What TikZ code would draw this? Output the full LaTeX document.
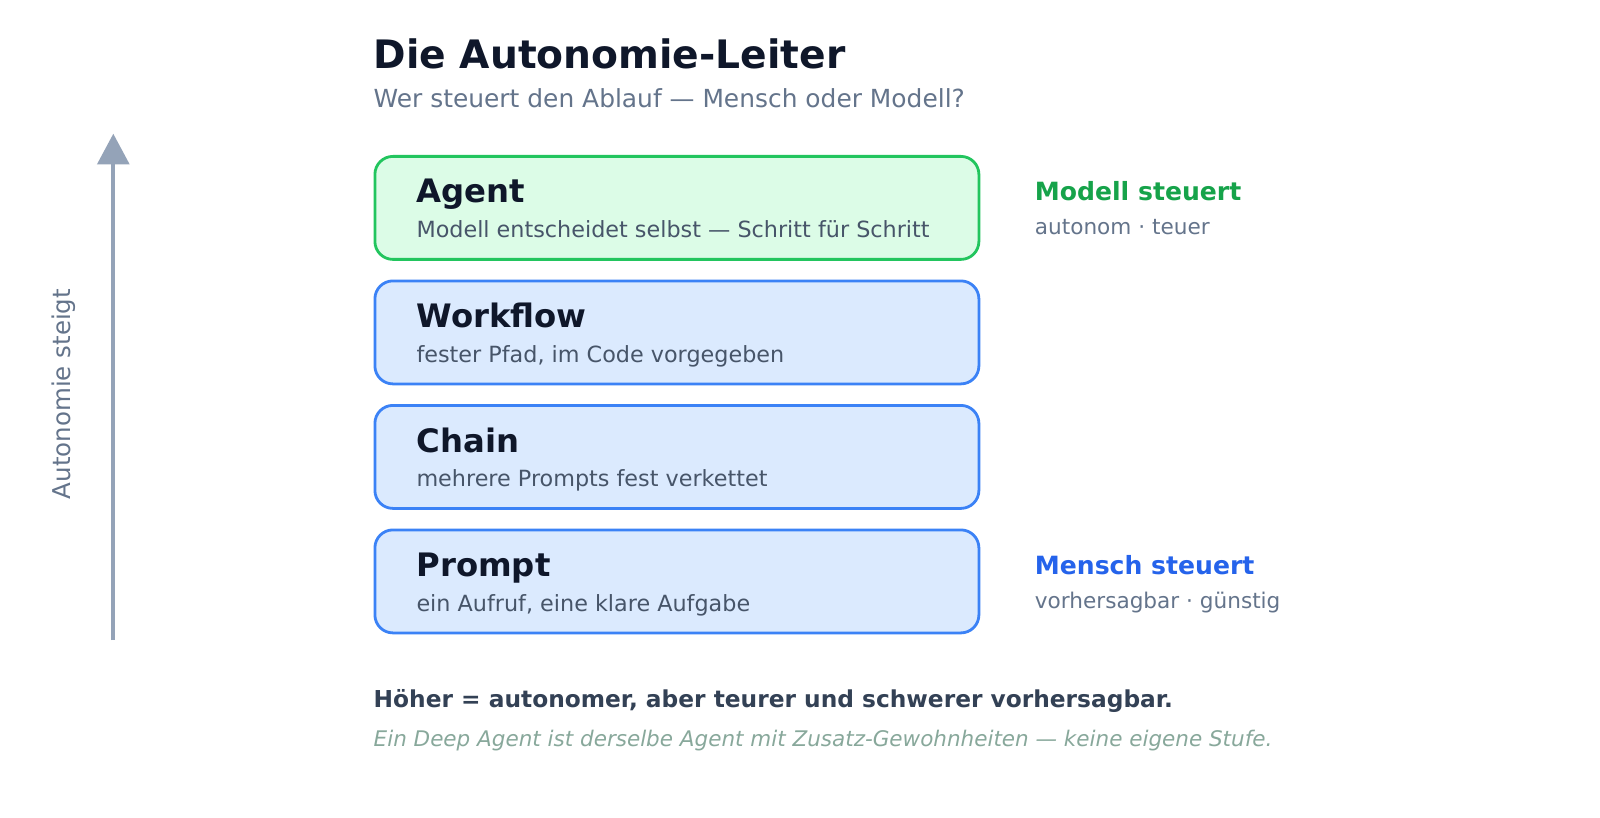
\documentclass[tikz,border=0pt]{standalone}
\usepackage{fontspec}
\setmainfont{DejaVu Sans}
\usetikzlibrary{arrows.meta}
\definecolor{ink}{HTML}{0F172A}
\definecolor{slate}{HTML}{64748B}
\definecolor{slatedk}{HTML}{475569}
\definecolor{slatexd}{HTML}{334155}
\definecolor{axiscol}{HTML}{94A3B8}
\definecolor{gborder}{HTML}{22C55E}
\definecolor{gfill}{HTML}{DCFCE7}
\definecolor{bborder}{HTML}{3B82F6}
\definecolor{bfill}{HTML}{DBEAFE}
\definecolor{gtext}{HTML}{16A34A}
\definecolor{btext}{HTML}{2563EB}
\definecolor{note}{HTML}{88A89B}
\begin{document}
\begin{tikzpicture}[x=1pt,y=-1pt,
  lvl/.style={draw=bborder,fill=bfill,line width=2.8pt,rounded corners=18pt,minimum width=604pt,minimum height=103pt,anchor=north west,inner sep=0pt},
  agentlvl/.style={lvl,draw=gborder,fill=gfill},
  lvltitle/.style={anchor=base west,inner sep=0pt,font=\bfseries\fontsize{32.3}{36}\selectfont,text=ink},
  lvlsub/.style={anchor=base west,inner sep=0pt,font=\fontsize{22.3}{26}\selectfont,text=slatedk},
  sidetitle/.style={anchor=base west,inner sep=0pt,font=\bfseries\fontsize{25.1}{29}\selectfont},
  sidesub/.style={anchor=base west,inner sep=0pt,font=\fontsize{21.6}{25}\selectfont,text=slate}]
\useasboundingbox[fill=white] (0,0) rectangle (1600,818);
% title
\node[anchor=base west,inner sep=0pt,font=\bfseries\fontsize{39.2}{44}\selectfont,text=ink] (title) at (373.5,68.4) {Die Autonomie-Leiter};
\node[anchor=base west,inner sep=0pt,font=\fontsize{24.9}{29}\selectfont,text=slate] (subtitle) at (373.5,108) {Wer steuert den Ablauf — Mensch oder Modell?};
% levels
\node[agentlvl] (agent) at (373.5,155) {};
\node[lvl] (workflow) at (373.5,279.5) {};
\node[lvl] (chain) at (373.5,404) {};
\node[lvl] (prompt) at (373.5,528.5) {};
\node[lvltitle] (agentT) at (416.3,203) {Agent};
\node[lvlsub] (agentS) at (416.3,237.7) {Modell entscheidet selbst — Schritt für Schritt};
\node[lvltitle] (workflowT) at (416.3,327.5) {Workflow};
\node[lvlsub] (workflowS) at (416.3,362.2) {fester Pfad, im Code vorgegeben};
\node[lvltitle] (chainT) at (416.3,452) {Chain};
\node[lvlsub] (chainS) at (416.3,486.7) {mehrere Prompts fest verkettet};
\node[lvltitle] (promptT) at (416.3,576.5) {Prompt};
\node[lvlsub] (promptS) at (416.3,611.2) {ein Aufruf, eine klare Aufgabe};
% side labels
\node[sidetitle,text=gtext] (modell) at (1034.7,201) {Modell steuert};
\node[sidesub] (modellS) at (1034.7,234.7) {autonom · teuer};
\node[sidetitle,text=btext] (mensch) at (1034.7,574.5) {Mensch steuert};
\node[sidesub] (menschS) at (1034.7,608) {vorhersagbar · günstig};
% axis
\coordinate (axbot) at (113.3,640);
\coordinate (axtop) at (113.3,133.7);
\draw[axiscol,line width=4pt,-{Triangle[width=31.6pt,length=30.6pt]}] (axbot) -- (axtop);
\node[rotate=90,inner sep=0pt,font=\fontsize{24.5}{28}\selectfont,text=slate] (axlabel) at (63.3,394) {Autonomie steigt};
% notes
\node[anchor=base west,inner sep=0pt,font=\bfseries\fontsize{23.3}{27}\selectfont,text=slatexd] (note1) at (373.5,707) {Höher = autonomer, aber teurer und schwerer vorhersagbar.};
\node[anchor=base west,inner sep=0pt,font=\itshape\fontsize{21.5}{25}\selectfont,text=note] (note2) at (373.5,746) {Ein Deep Agent ist derselbe Agent mit Zusatz-Gewohnheiten — keine eigene Stufe.};
\end{tikzpicture}
\end{document}
